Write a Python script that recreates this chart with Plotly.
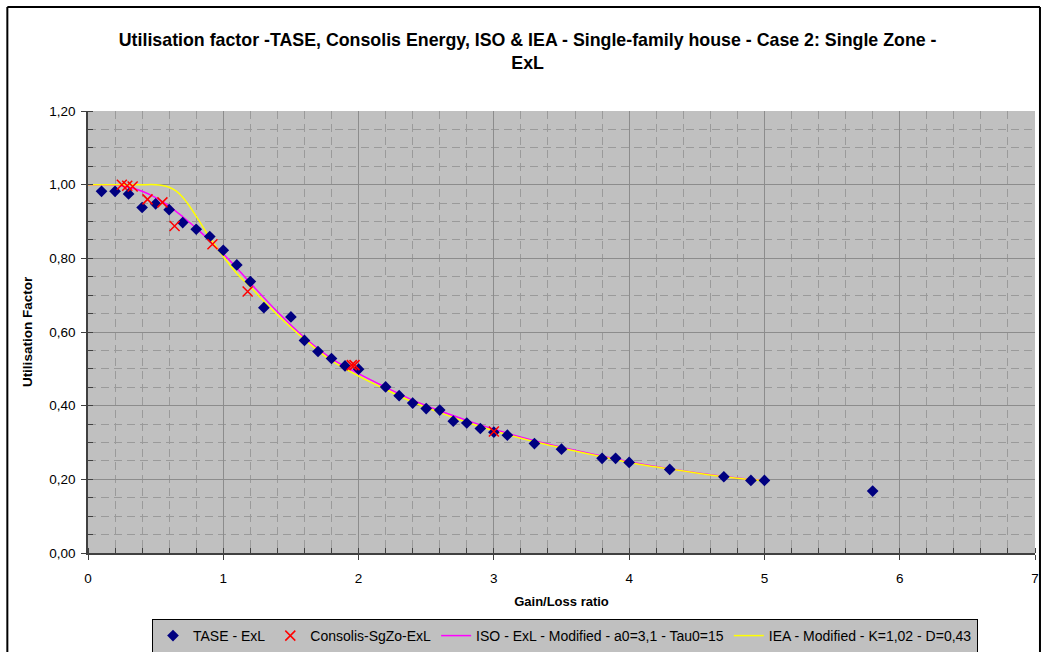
import plotly.graph_objects as go

# ---- data ----
tase_x = [0.1, 0.2, 0.3, 0.4, 0.5, 0.6, 0.7, 0.8, 0.9, 1.0, 1.1, 1.2, 1.3, 1.5, 1.6, 1.7,
          1.8, 1.9, 2.0, 2.2, 2.3, 2.4, 2.5, 2.6, 2.7, 2.8, 2.9, 3.0, 3.1, 3.3, 3.5, 3.8,
          3.9, 4.0, 4.3, 4.7, 4.9, 5.0, 5.8]
tase_y = [0.982, 0.982, 0.975, 0.938, 0.948, 0.932, 0.897, 0.879, 0.859, 0.822, 0.782,
          0.737, 0.666, 0.641, 0.577, 0.547, 0.528, 0.508, 0.499, 0.451, 0.427, 0.407,
          0.392, 0.388, 0.358, 0.353, 0.338, 0.328, 0.320, 0.297, 0.282, 0.257, 0.257,
          0.246, 0.227, 0.207, 0.197, 0.197, 0.168]

consolis_x = [0.25, 0.29, 0.33, 0.44, 0.55, 0.64, 0.92, 1.18, 1.95, 1.97, 3.0]
consolis_y = [1.0, 0.997, 0.995, 0.960, 0.952, 0.888, 0.838, 0.710, 0.510, 0.510, 0.330]

iso_x = [0.0, 0.1, 0.2, 0.3, 0.4, 0.5, 0.6, 0.7, 0.8, 0.9, 1.0, 1.1, 1.2, 1.4, 1.6, 1.8,
         2.0, 2.2, 2.4, 2.6, 2.8, 3.0, 3.3, 3.6, 4.0, 4.3, 4.7, 5.0]
iso_y = [1.0, 1.0, 0.999, 0.993, 0.982, 0.965, 0.942, 0.913, 0.882, 0.848, 0.812, 0.774,
         0.733, 0.655, 0.585, 0.528, 0.487, 0.450, 0.415, 0.386, 0.360, 0.336, 0.305,
         0.279, 0.248, 0.229, 0.208, 0.197]

iea_x = [0.0, 0.1, 0.2, 0.3, 0.4, 0.5, 0.55, 0.6, 0.65, 0.7, 0.75, 0.8, 0.85, 0.9, 0.95,
         1.0, 1.1, 1.2, 1.4, 1.6, 1.8, 2.0, 2.2, 2.4, 2.6, 2.8, 3.0, 3.3, 3.6, 4.0, 4.3,
         4.7, 5.0]
iea_y = [1.0, 1.0, 1.0, 1.0, 1.0, 1.0, 0.998, 0.993, 0.983, 0.966, 0.942, 0.914, 0.885,
         0.856, 0.830, 0.805, 0.759, 0.722, 0.647, 0.580, 0.522, 0.480, 0.444, 0.410,
         0.381, 0.355, 0.332, 0.302, 0.277, 0.246, 0.228, 0.207, 0.196]

x_ticks = [0, 1, 2, 3, 4, 5, 6, 7]
y_ticks = [0.0, 0.2, 0.4, 0.6, 0.8, 1.0, 1.2]

title_text = ("<b>Utilisation factor -TASE, Consolis Energy, ISO &amp; IEA - Single-family house - "
              "Case 2: Single Zone -<br>ExL</b>")

FONT = "Liberation Sans, Arial, sans-serif"

fig = go.Figure()

fig.add_trace(go.Scatter(
    x=iso_x, y=iso_y, mode="lines", name="ISO - ExL - Modified - a0=3,1 - Tau0=15",
    line=dict(color="#FF00FF", width=1.5, shape="spline", smoothing=0.8), legendrank=3))
fig.add_trace(go.Scatter(
    x=iea_x, y=iea_y, mode="lines", name="IEA - Modified - K=1,02 - D=0,43",
    line=dict(color="#FFFF00", width=1.5, shape="spline", smoothing=0.8), legendrank=4))
fig.add_trace(go.Scatter(
    x=tase_x, y=tase_y, mode="markers", name="TASE - ExL",
    marker=dict(symbol="diamond", color="#000080", size=9), legendrank=1))
fig.add_trace(go.Scatter(
    x=consolis_x, y=consolis_y, mode="markers", name="Consolis-SgZo-ExL",
    marker=dict(symbol="x-thin", size=10, line=dict(color="#FF0000", width=1.5)),
    legendrank=2))

axis_common = dict(
    showline=True, linecolor="#404040", linewidth=1.5, mirror=False,
    gridcolor="#8C8C8C", gridwidth=1, zeroline=False,
    ticks="outside", ticklen=5, tickcolor="#404040",
    tickfont=dict(family=FONT, size=13.5, color="black"),
)

fig.update_xaxes(
    range=[0, 7], tickvals=x_ticks, tickformat="d", ticklabelstandoff=7,
    title=dict(text="<b>Gain/Loss ratio</b>", font=dict(family=FONT, size=13, color="black"),
               standoff=12),
    minor=dict(dtick=0.2, ticks="inside", ticklen=5, tickcolor="#404040", showgrid=True,
               gridcolor="#9A9A9A", griddash="8px,5px", gridwidth=1),
    **axis_common)
fig.update_yaxes(
    range=[0, 1.2], tickvals=y_ticks, tickformat=".2f", ticklabelstandoff=3,
    title=dict(text="<b>Utilisation Factor</b>", font=dict(family=FONT, size=13.5, color="black"),
               standoff=14),
    minor=dict(dtick=0.05, ticks="inside", ticklen=5, tickcolor="#404040", showgrid=True,
               gridcolor="#9A9A9A", griddash="8px,5px", gridwidth=1),
    **axis_common)

# chart-area frame
frame = dict(type="line", xref="paper", yref="paper", line=dict(color="black", width=2))
px2x = lambda p: (p - 88.0) / 951.0
py2y = lambda p: (553.0 - p) / 442.0
shapes = [
    dict(frame, x0=px2x(7), x1=px2x(7), y0=py2y(7), y1=py2y(700)),
    dict(frame, x0=px2x(7), x1=px2x(1044), y0=py2y(7), y1=py2y(7)),
    dict(frame, x0=px2x(1044), x1=px2x(1044), y0=py2y(7), y1=py2y(700)),
]

fig.update_layout(
    width=1049, height=652, autosize=False,
    margin=dict(l=88, r=10, t=111, b=99),
    paper_bgcolor="white", plot_bgcolor="#C0C0C0",
    separators=", ",
    font=dict(family=FONT, size=13, color="black"),
    title=dict(text=title_text, xref="container", x=0.503, xanchor="center",
               yref="container", y=1 - 46 / 652, yanchor="top",
               font=dict(family=FONT, size=17.8, color="black")),
    showlegend=True,
    legend=dict(orientation="h", xref="container", yref="container",
                x=152 / 1049, xanchor="left", y=1 - 619 / 652, yanchor="top",
                bgcolor="#C0C0C0", bordercolor="black", borderwidth=1,
                font=dict(family=FONT, size=14, color="black"),
                traceorder="normal", itemwidth=30),
    shapes=shapes,
)

fig.write_html("out.html")
